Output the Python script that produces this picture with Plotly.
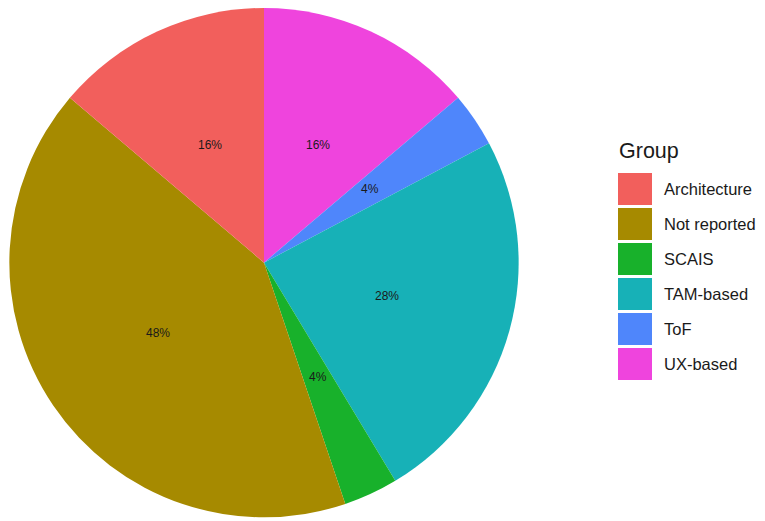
import math
import plotly.graph_objects as go

# ---- data ----
groups = ["Architecture", "Not reported", "SCAIS", "TAM-based", "ToF", "UX-based"]
counts = [4, 12, 1, 7, 1, 4]
pct_labels = ["16%", "48%", "4%", "28%", "4%", "16%"]
colors = ["#F25F5C", "#A68A00", "#18B12B", "#17B1B7", "#4F86FB", "#EF44DD"]
legend_title = "Group"

OFF = 8                     # page body margin of the html page
W, H = 765 - OFF, 521 - OFF
r = 256.0
cx, cy = r, 261.3 - OFF    # pie centre (layout pixels)

fig = go.Figure(
    go.Pie(
        labels=groups[::-1],
        values=counts[::-1],
        sort=False,
        direction="clockwise",
        rotation=0,
        marker=dict(colors=colors[::-1], line=dict(width=0)),
        textinfo="none",
        hoverinfo="label+value",
        showlegend=False,
        domain=dict(x=[max(0.0, (cx - r) / W), (cx + r) / W],
                    y=[max(0.0, 1 - (cy + r) / H), min(1.0, 1 - (cy - r) / H)]),
    )
)

annotations = []
total = sum(counts)
cum = 0
for c, lab in zip(counts, pct_labels):
    mid = (cum + c / 2) / total * 2 * math.pi
    cum += c
    px = cx - 0.5 * r * math.sin(mid)
    py = cy - 0.5 * r * math.cos(mid)
    annotations.append(dict(
        x=px / W, y=1 - py / H, xref="paper", yref="paper",
        text=lab, showarrow=False,
        font=dict(family="Liberation Sans, Arial", size=12, color="#1a1a1a"),
        xanchor="center", yanchor="middle",
    ))

# custom ggplot-like legend
shapes = []
annotations.append(dict(
    x=(617 - OFF) / W, y=1 - (151 - OFF) / H, xref="paper", yref="paper",
    text=legend_title, showarrow=False, xanchor="left", yanchor="middle",
    font=dict(family="Liberation Sans, Arial", size=21.5, color="#1a1a1a"),
))
for i, (g, col) in enumerate(zip(groups, colors)):
    top = 173 + 35 * i - OFF
    shapes.append(dict(
        type="rect", xref="paper", yref="paper",
        x0=(618 - OFF) / W, x1=(652 - OFF) / W,
        y0=1 - (top + 32) / H, y1=1 - top / H,
        fillcolor=col, line=dict(width=0),
    ))
    annotations.append(dict(
        x=(662 - OFF) / W, y=1 - (top + 16) / H, xref="paper", yref="paper",
        text=g, showarrow=False, xanchor="left", yanchor="middle",
        font=dict(family="Liberation Sans, Arial", size=16.5, color="#1a1a1a"),
    ))

fig.update_layout(
    width=W, height=H,
    margin=dict(l=0, r=0, t=0, b=0),
    paper_bgcolor="white", plot_bgcolor="white",
    annotations=annotations, shapes=shapes,
)

fig.write_html("out.html")
